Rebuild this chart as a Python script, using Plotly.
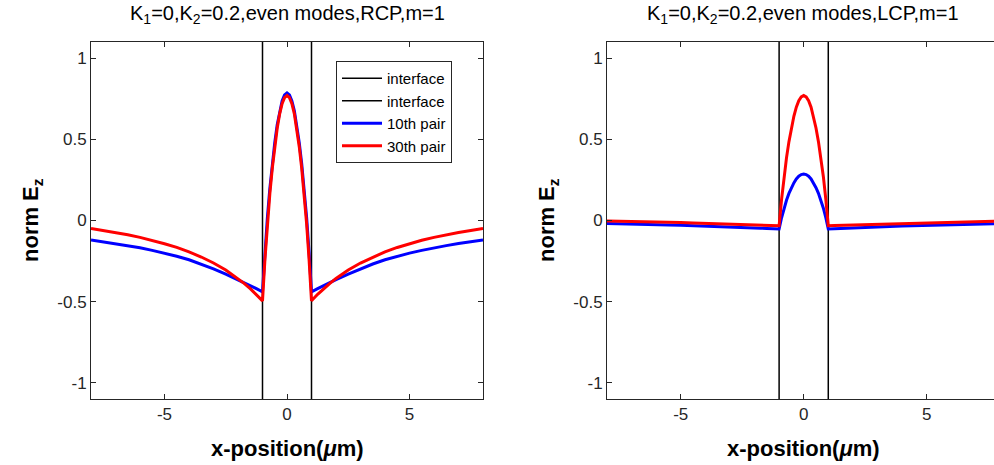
import plotly.graph_objects as go

W, H = 994, 465

# ---------------- data ----------------
x_pos = [-8, -7.5, -7, -6.5, -6, -5.5, -5, -4.5, -4, -3.5, -3, -2.5, -2, -1.75, -1.5, -1.25, -1,
         -0.9, -0.8, -0.7, -0.6, -0.5, -0.4, -0.3, -0.2, -0.1, 0,
         0.1, 0.2, 0.3, 0.4, 0.5, 0.6, 0.7, 0.8, 0.9,
         1, 1.25, 1.5, 1.75, 2, 2.5, 3, 3.5, 4, 4.5, 5, 5.5, 6, 6.5, 7, 7.5, 8]

rcp_10th = [-0.12, -0.131, -0.142, -0.155, -0.168, -0.184, -0.201, -0.22, -0.242, -0.268,
            -0.298, -0.33, -0.364, -0.382, -0.40, -0.42, -0.44,
            -0.195, 0.02, 0.198, 0.35, 0.48, 0.59, 0.676, 0.737, 0.774, 0.786,
            0.774, 0.737, 0.676, 0.59, 0.48, 0.35, 0.198, 0.02, -0.195,
            -0.44, -0.42, -0.40, -0.382, -0.364, -0.33, -0.298, -0.268, -0.242,
            -0.22, -0.201, -0.184, -0.168, -0.155, -0.142, -0.131, -0.12]
rcp_30th = [-0.049, -0.061, -0.074, -0.088, -0.104, -0.122, -0.143, -0.166, -0.193, -0.225,
            -0.262, -0.305, -0.357, -0.387, -0.42, -0.455, -0.495,
            -0.238, -0.017, 0.165, 0.323, 0.455, 0.568, 0.657, 0.72, 0.757, 0.77,
            0.757, 0.72, 0.657, 0.568, 0.455, 0.323, 0.165, -0.017, -0.238,
            -0.495, -0.455, -0.42, -0.387, -0.357, -0.305, -0.262, -0.225, -0.193,
            -0.166, -0.143, -0.122, -0.104, -0.088, -0.074, -0.061, -0.049]

lcp_10th = [-0.019, -0.020, -0.022, -0.024, -0.026, -0.028, -0.030, -0.032, -0.034, -0.037,
            -0.040, -0.042, -0.045, -0.047, -0.049, -0.051, -0.052,
            0.017, 0.076, 0.125, 0.167, 0.202, 0.232, 0.256, 0.273, 0.283, 0.286,
            0.283, 0.273, 0.256, 0.232, 0.202, 0.167, 0.125, 0.076, 0.017,
            -0.052, -0.051, -0.049, -0.047, -0.045, -0.042, -0.040, -0.037, -0.034,
            -0.032, -0.030, -0.028, -0.026, -0.024, -0.022, -0.020, -0.019]
lcp_30th = [-0.003, -0.004, -0.005, -0.007, -0.008, -0.010, -0.012, -0.015, -0.017, -0.020,
            -0.022, -0.025, -0.027, -0.028, -0.030, -0.031, -0.032,
            0.13, 0.27, 0.386, 0.486, 0.57, 0.642, 0.698, 0.738, 0.762, 0.77,
            0.762, 0.738, 0.698, 0.642, 0.57, 0.486, 0.386, 0.27, 0.13,
            -0.032, -0.031, -0.030, -0.028, -0.027, -0.025, -0.022, -0.020, -0.017,
            -0.015, -0.012, -0.010, -0.008, -0.007, -0.005, -0.004, -0.003]

interface_x = [-1, 1]
y_span = [-1.1, 1.1]

x_ticks = [-5, 0, 5]
x_ticklabels = ["-5", "0", "5"]
y_ticks = [-1, -0.5, 0, 0.5, 1]
y_ticklabels = ["-1", "-0.5", "0", "0.5", "1"]

titles = ["K<sub>1</sub>=0,K<sub>2</sub>=0.2,even modes,RCP,m=1",
          "K<sub>1</sub>=0,K<sub>2</sub>=0.2,even modes,LCP,m=1"]

# ---------------- figure ----------------
FONT = "Liberation Sans, Arial, Helvetica, sans-serif"
AX = "#262626"

fig = go.Figure()

def add_panel(xa, ya, blue, red, show_legend):
    for xv in interface_x:
        fig.add_trace(go.Scatter(x=[xv, xv], y=y_span, mode="lines",
                                 line=dict(color="black", width=1.5),
                                 name="interface", showlegend=show_legend,
                                 xaxis=xa, yaxis=ya))
    fig.add_trace(go.Scatter(x=x_pos, y=blue, mode="lines",
                             line=dict(color="#0000ff", width=3),
                             name="10th pair", showlegend=show_legend,
                             xaxis=xa, yaxis=ya))
    fig.add_trace(go.Scatter(x=x_pos, y=red, mode="lines",
                             line=dict(color="#ff0000", width=3),
                             name="30th pair", showlegend=show_legend,
                             xaxis=xa, yaxis=ya))

add_panel("x", "y", rcp_10th, rcp_30th, True)
add_panel("x2", "y2", lcp_10th, lcp_30th, False)

ytop, ybot = 1 - 42 / H, 1 - 399 / H
common_x = dict(tickvals=x_ticks, ticktext=x_ticklabels, ticks="inside", ticklen=5,
                tickcolor=AX, showline=True, linecolor=AX, linewidth=1, showgrid=False,
                zeroline=False, tickfont=dict(family=FONT, size=17, color=AX))
common_y = dict(tickvals=y_ticks, ticktext=y_ticklabels, ticks="inside", ticklen=5,
                tickcolor=AX, showline=True, linecolor=AX, linewidth=1,
                showgrid=False, zeroline=False, range=[-1.1, 1.1],
                tickfont=dict(family=FONT, size=17, color=AX))

fig.update_layout(
    width=W, height=H, autosize=False,
    margin=dict(l=0, r=0, t=0, b=0),
    paper_bgcolor="white", plot_bgcolor="white",
    xaxis=dict(domain=[91 / W, 483 / W], range=[-8, 8], mirror="ticks",
               anchor="y", **common_x),
    yaxis=dict(domain=[ybot, ytop], mirror="ticks", anchor="x", **common_y),
    xaxis2=dict(domain=[607 / W, 1.0], range=[-8, 7.74], mirror="ticks",
                anchor="y2", **common_x),
    yaxis2=dict(domain=[ybot, ytop], mirror=False, anchor="x2", **common_y),
    legend=dict(x=336 / W, y=1 - 61 / H, xanchor="left", yanchor="top",
                bgcolor="white", bordercolor=AX, borderwidth=1,
                font=dict(family=FONT, size=15, color="black"),
                itemwidth=40, tracegroupgap=0),
    showlegend=True,
)

centers = [287 / W, 803 / W]
ylab_x = [32 / W, 548 / W]
for i in range(2):
    fig.add_annotation(text=titles[i], x=centers[i], y=1 - 15 / H, xref="paper",
                       yref="paper", showarrow=False, xanchor="center", yanchor="middle",
                       font=dict(family=FONT, size=20, color="black"))
    fig.add_annotation(text="<b>x-position(<i>μ</i>m)</b>", x=centers[i], y=1 - 448 / H,
                       xref="paper", yref="paper", showarrow=False,
                       xanchor="center", yanchor="middle",
                       font=dict(family=FONT, size=22, color="black"))
    fig.add_annotation(text="<b>norm E<sub>z</sub></b>", x=ylab_x[i], y=1 - 220 / H,
                       xref="paper", yref="paper", showarrow=False, textangle=-90,
                       xanchor="center", yanchor="middle",
                       font=dict(family=FONT, size=22, color="black"))

fig.write_html("out.html")
